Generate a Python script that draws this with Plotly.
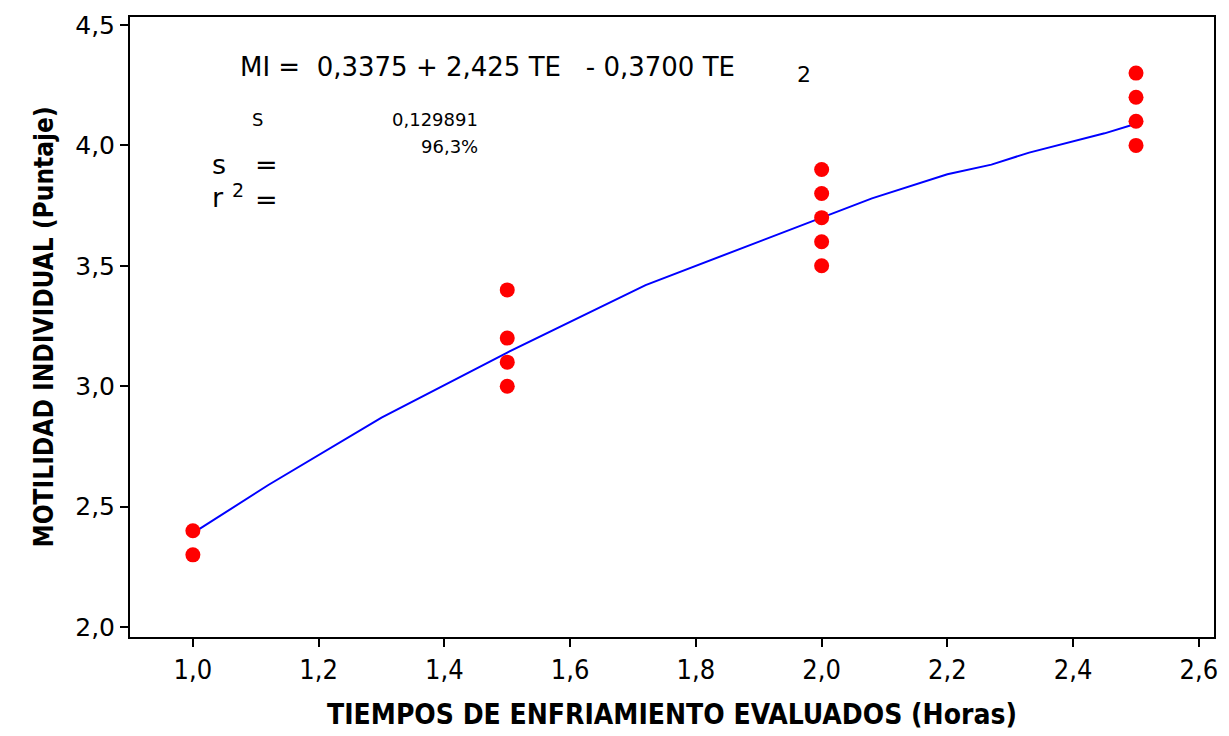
import plotly.graph_objects as go

# Observed data
te_obs = [1.0, 1.0, 1.5, 1.5, 1.5, 1.5, 2.0, 2.0, 2.0, 2.0, 2.0, 2.5, 2.5, 2.5, 2.5]
mi_obs = [2.4, 2.3, 3.4, 3.2, 3.1, 3.0, 3.9, 3.8, 3.7, 3.6, 3.5, 4.3, 4.2, 4.1, 4.0]

# Fitted line
te_fit = [1.0, 1.12, 1.3, 1.5, 1.72, 1.85, 2.0, 2.08, 2.2, 2.27, 2.33, 2.39, 2.45, 2.5]
mi_fit = [2.39, 2.59, 2.87, 3.14, 3.42, 3.55, 3.70, 3.78, 3.88, 3.92, 3.97, 4.01, 4.05, 4.09]

x_ticks = [1.0, 1.2, 1.4, 1.6, 1.8, 2.0, 2.2, 2.4, 2.6]
x_labels = ["1,0", "1,2", "1,4", "1,6", "1,8", "2,0", "2,2", "2,4", "2,6"]
y_ticks = [2.0, 2.5, 3.0, 3.5, 4.0, 4.5]
y_labels = ["2,0", "2,5", "3,0", "3,5", "4,0", "4,5"]

fig = go.Figure()
fig.add_trace(go.Scatter(x=te_fit, y=mi_fit, mode="lines",
                         line=dict(color="#0000ff", width=2), showlegend=False))
fig.add_trace(go.Scatter(x=te_obs, y=mi_obs, mode="markers",
                         marker=dict(color="#ff0000", size=15, line=dict(width=0)),
                         showlegend=False))

font_main = "DejaVu Sans"
fig.update_layout(
    width=1229, height=736,
    margin=dict(l=130, r=11, t=15, b=96),
    paper_bgcolor="white", plot_bgcolor="white",
    font=dict(family=font_main, color="black"),
    xaxis=dict(range=[0.9, 2.624], tickvals=x_ticks, ticktext=x_labels,
               ticks="outside", ticklen=8, tickwidth=1.5, tickcolor="black",
               tickfont=dict(family="DejaVu Sans Condensed", size=27),
               showline=True, linecolor="black", linewidth=2, mirror=True,
               showgrid=False, zeroline=False,
               title=dict(text="<b>TIEMPOS DE ENFRIAMIENTO EVALUADOS (Horas)</b>",
                          font=dict(family="DejaVu Sans Condensed", size=28), standoff=20)),
    yaxis=dict(range=[1.959, 4.533], tickvals=y_ticks, ticktext=y_labels,
               ticks="outside", ticklen=8, tickwidth=1.5, tickcolor="black",
               tickfont=dict(family=font_main, size=25),
               showline=True, linecolor="black", linewidth=2, mirror=True,
               showgrid=False, zeroline=False,
               title=dict(text="<b>MOTILIDAD INDIVIDUAL (Puntaje)</b>",
                          font=dict(family="DejaVu Sans Condensed", size=26), standoff=14)),
)

ann = [
    dict(x=238, y=65, text="MI =  0,3375 + 2,425 TE   - 0,3700 TE", size=26, xanchor="left"),
    dict(x=806, y=73, text="2", size=22, xanchor="center"),
    dict(x=258, y=118, text="S", size=18, xanchor="center"),
    dict(x=481, y=118, text="0,129891", size=18, xanchor="right"),
    dict(x=481, y=146, text="96,3%", size=18, xanchor="right"),
    dict(x=210, y=164, text="s", size=27, xanchor="left"),
    dict(x=253, y=164, text="=", size=27, xanchor="left"),
    dict(x=210, y=197, text="r", size=27, xanchor="left"),
    dict(x=238, y=189, text="2", size=19, xanchor="center"),
    dict(x=253, y=199, text="=", size=27, xanchor="left"),
]

W, H = 1229, 736
l, r, t, b = 130, 11, 15, 96
pw, ph = W - l - r, H - t - b
for a in ann:
    fig.add_annotation(x=(a["x"] - l) / pw, y=1 - (a["y"] - t) / ph,
                       xref="paper", yref="paper",
                       text=a["text"], showarrow=False, xanchor=a["xanchor"], yanchor="middle",
                       font=dict(family=font_main, size=a["size"], color="black"))

fig.write_html("out.html")
